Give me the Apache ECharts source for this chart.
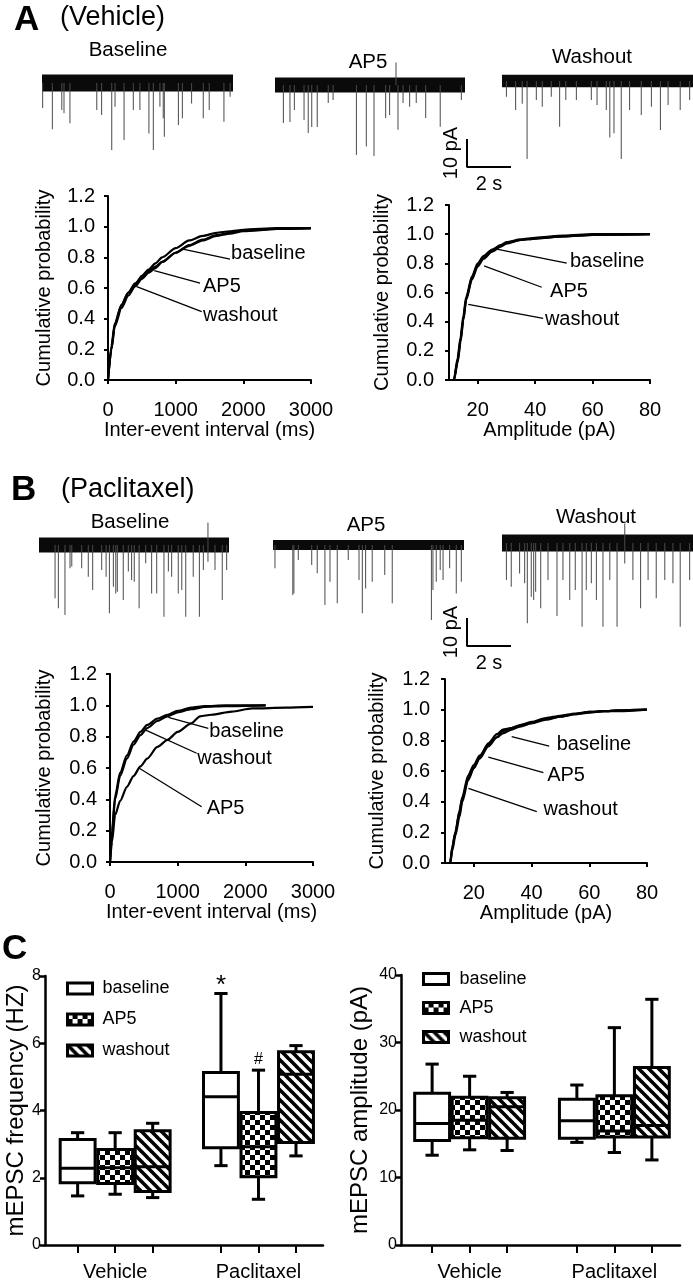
<!DOCTYPE html>
<html><head><meta charset="utf-8">
<script src="https://cdn.jsdelivr.net/npm/echarts@6/dist/echarts.min.js"></script>
<style>html,body{margin:0;padding:0;background:#fff}#c{width:693px;height:1285px}</style>
</head><body><div id="c"></div>
<script>
// ===================== DATA =====================
// Trace events: [time (s), amplitude (pA, downward)]
const vehBaselineEvents = [[0.03,8.9],[0.47,16.5],[0.9,9.6],[1.0,10.8],[1.27,14.4],[2.49,9.6],[2.71,11.4],[3.17,23.9],[3.32,8.5],[3.73,20.4],[4.15,9.6],[4.45,9.6],[4.86,18],[5.06,23.9],[5.36,8.5],[5.51,12.6],[5.56,19.2],[6.2,15],[6.38,12.6],[6.8,7.3],[7.33,12.6],[7.6,9.6],[8.27,13.8],[8.55,4.9]];
const vehAP5Events = [[0.38,13.6],[0.68,13.2],[0.88,8.9],[1.32,12.5],[1.51,17.1],[1.67,15],[1.92,15],[2.42,6.4],[2.64,5.4],[3.7,25],[4.15,22],[4.5,25.4],[5.03,11.8],[5.21,10.7],[5.59,16],[5.82,6.4],[6.12,7.8],[6.42,6.4],[6.85,11.8],[7.51,14.9],[8.47,5.4]];
const vehAP5Up = [[5.5,8]];
const vehWashoutEvents = [[0.2,5.6],[0.62,10.4],[0.92,8.1],[1.14,27.9],[1.56,6.8],[1.83,9.2],[2.24,5.6],[2.62,16.3],[2.9,6.8],[3.38,6.8],[4.06,6.8],[4.32,8.6],[4.74,10.4],[4.9,20.2],[5.09,18.7],[5.42,27.9],[5.8,10.4],[6.33,12.1],[6.79,9.2],[7.2,17.5],[7.55,8.6],[8.1,10.4],[8.53,6.8]];
const pacBaselineEvents = [[0.73,19],[0.88,22.6],[1.18,25],[1.41,8.3],[1.49,7.7],[1.94,8.3],[2.24,11.3],[2.44,16.1],[2.85,8.9],[3.05,11.3],[3.2,24.4],[3.38,14.9],[3.49,17.3],[3.56,16.7],[3.83,19.6],[4.06,9.5],[4.21,12.5],[4.33,13.1],[4.55,22.6],[4.85,6.5],[5.12,17.3],[5.35,17.3],[5.68,25.6],[5.88,9.5],[6.03,11.3],[6.33,17.3],[6.49,16.1],[6.67,25.6],[7.01,11.3],[7.29,25.6],[7.47,8.9],[7.68,6],[8.0,8.9],[8.33,19.6],[8.53,8.9]];
const pacBaselineUp = [[7.68,8]];
const pacAP5Events = [[0.09,8.3],[0.9,17.9],[0.95,17.3],[1.15,5.4],[1.76,7.1],[2.01,10.1],[2.36,21.4],[2.59,13.1],[2.92,20.8],[3.42,5.4],[3.91,12.5],[4.06,24.4],[4.21,15.5],[4.51,13.1],[5.08,10.7],[5.42,20.8],[7.2,26.8],[7.27,16.1],[7.42,13.1],[7.6,8.9],[7.73,12.5],[8.03,8.3],[8.33,17.3],[8.56,13.1]];
const pacWashoutEvents = [[0.2,13.2],[0.42,15.6],[0.8,10.9],[1.03,14.4],[1.15,28.7],[1.33,19.2],[1.44,20.4],[1.53,17.4],[1.76,23.3],[2.09,13.2],[2.5,26.1],[2.77,13.2],[3.08,20.4],[3.33,16.8],[3.64,29.9],[3.83,16.8],[4.06,14.4],[4.29,20.4],[4.59,29.9],[4.9,13.2],[5.23,29.9],[5.58,7.3],[5.95,13.2],[6.3,23.3],[6.64,13.2],[7.01,19.7],[7.4,13.2],[7.77,14.4],[8.1,29.9],[8.53,13.2]];
const pacWashoutUp = [[5.58,7]];
// baseline noise half-width (pA) per trace: baseline, AP5, washout
const vehNoise = [3.0, 2.7, 2.2];
const pacNoise = [2.7, 1.8, 3.0];
const traceTitles = ['Baseline', 'AP5', 'Washout'];
const scaleBar = {pA: 10, s: 2};

// Cumulative probability curves
const vehIEI_baseline = [[0,0],[50,0.2],[100,0.35],[200,0.47],[300,0.55],[400,0.61],[500,0.66],[600,0.7],[700,0.73],[800,0.77],[1000,0.83],[1200,0.88],[1400,0.915],[1600,0.945],[1800,0.96],[2000,0.975],[2500,0.985],[3000,0.99]];
const vehIEI_AP5 = [[0,0],[50,0.22],[100,0.37],[200,0.49],[300,0.57],[400,0.63],[500,0.67],[600,0.71],[700,0.74],[800,0.77],[1000,0.83],[1200,0.875],[1400,0.91],[1600,0.94],[1800,0.955],[2000,0.97],[2500,0.985],[3000,0.99]];
const vehIEI_washout = [[0,0],[50,0.2],[100,0.36],[200,0.49],[300,0.57],[400,0.62],[500,0.68],[600,0.72],[700,0.76],[800,0.8],[1000,0.86],[1200,0.91],[1400,0.94],[1600,0.96],[1800,0.97],[2000,0.98],[2500,0.99],[3000,0.99]];
const vehAmp_baseline = [[10,0],[11.7,0],[13,0.12],[14,0.26],[15,0.41],[16,0.55],[18,0.69],[20,0.78],[22,0.83],[25,0.88],[28,0.915],[30,0.935],[35,0.96],[40,0.97],[50,0.985],[60,0.995],[80,1.0]];
const vehAmp_AP5 = [[10,0],[11.7,0],[13,0.15],[14,0.29],[15,0.44],[16,0.57],[18,0.71],[20,0.8],[22,0.85],[25,0.895],[28,0.925],[30,0.945],[35,0.965],[40,0.975],[50,0.99],[60,1.0],[80,1.0]];
const vehAmp_washout = [[10,0],[11.7,0],[13,0.13],[14,0.27],[15,0.42],[16,0.56],[18,0.7],[20,0.79],[22,0.84],[25,0.885],[28,0.92],[30,0.94],[35,0.96],[40,0.97],[50,0.985],[60,0.995],[80,1.0]];
const pacIEI_baseline = [[0,0],[30,0.2],[75,0.42],[150,0.57],[250,0.68],[350,0.77],[450,0.83],[550,0.875],[700,0.915],[850,0.94],[1000,0.965],[1200,0.985],[1400,0.995],[1700,1.0],[2300,1.0]];
const pacIEI_washout = [[0,0],[30,0.18],[75,0.4],[150,0.55],[250,0.66],[350,0.75],[450,0.81],[550,0.855],[700,0.9],[850,0.93],[1000,0.955],[1200,0.975],[1400,0.99],[1700,0.995],[2300,1.0]];
const pacIEI_AP5 = [[0,0],[30,0.13],[75,0.3],[150,0.39],[250,0.48],[350,0.55],[450,0.61],[550,0.66],[700,0.735],[850,0.78],[1000,0.83],[1200,0.885],[1330,0.93],[1500,0.94],[1800,0.96],[2100,0.98],[2600,0.985],[3000,0.99]];
const pacAmp_baseline = [[10,0],[11.8,0],[12.5,0.1],[13.6,0.2],[15,0.33],[16,0.42],[18,0.55],[20,0.62],[22,0.68],[25,0.76],[28,0.82],[30,0.86],[33,0.88],[36,0.9],[40,0.92],[45,0.945],[50,0.96],[55,0.975],[60,0.985],[65,0.99],[70,0.995],[80,1.0]];
const pacAmp_AP5 = [[10,0],[11.8,0],[12.5,0.08],[13.6,0.18],[15,0.3],[16,0.4],[18,0.54],[20,0.62],[22,0.69],[25,0.78],[28,0.84],[30,0.87],[33,0.88],[36,0.895],[40,0.915],[45,0.94],[50,0.955],[55,0.97],[60,0.98],[65,0.99],[70,0.99],[80,1.0]];
const pacAmp_washout = [[10,0],[11.8,0],[12.5,0.1],[13.6,0.2],[15,0.34],[16,0.43],[18,0.57],[20,0.64],[22,0.7],[25,0.77],[28,0.82],[30,0.845],[33,0.87],[36,0.89],[40,0.91],[45,0.935],[50,0.955],[55,0.97],[60,0.985],[65,0.99],[70,0.995],[80,1.0]];

// Curve labels: [name, pointOnCurve, leaderEnd, textStart]
const vehIEI_labels = [['baseline',[1089,0.855],[1803,0.789],[1818,0.826]],['AP5',[684,0.713],[1360,0.631],[1404,0.609]],['washout',[424,0.609],[1384,0.446],[1404,0.424]]];
const vehAmp_labels = [['baseline',[26.6,0.897],[51.0,0.801],[52.1,0.811]],['AP5',[22.2,0.782],[42.3,0.636],[45.2,0.606]],['washout',[16.7,0.519],[42.8,0.423],[43.4,0.416]]];
const pacIEI_labels = [['baseline',[862,0.923],[1453,0.853],[1467,0.832]],['washout',[528,0.842],[1281,0.694],[1290,0.662]],['AP5',[433,0.598],[1355,0.353],[1428,0.343]]];
const pacAmp_labels = [['baseline',[33.1,0.824],[46.1,0.763],[48.7,0.77]],['AP5',[25.0,0.69],[44.1,0.589],[45.4,0.574]],['washout',[18.1,0.487],[41.8,0.335],[44.1,0.346]]];

// Box plots: [min, Q1, median, Q3, max]
const groups = ['Vehicle', 'Paclitaxel'];
const conditions = ['baseline', 'AP5', 'washout'];
const freqBaseline = [[1.46,1.85,2.28,3.14,3.34],[2.36,2.89,4.41,5.13,7.48]];
const freqAP5      = [[1.51,1.83,2.3,2.84,3.34],[1.36,2.03,2.92,3.94,5.20]];
const freqWashout  = [[1.41,1.59,2.33,3.40,3.62],[2.65,3.05,5.08,5.75,5.93]];
const ampBaseline  = [[13.3,15.5,18.0,22.5,26.8],[15.2,15.8,18.4,21.6,23.7]];
const ampAP5       = [[14.1,15.9,18.5,21.9,25.0],[13.7,16.0,16.9,22.1,32.2]];
const ampWashout   = [[14.0,15.8,20.5,21.8,22.6],[12.6,16.0,17.7,26.3,36.4]];
const sigMarks = [{chart:'freq', group:'Paclitaxel', cond:'baseline', text:'*'},{chart:'freq', group:'Paclitaxel', cond:'AP5', text:'#'}];
const freqTicks = [0, 8, 2];
const ampTicks = [0, 40, 10];

// ===================== STYLE / LAYOUT =====================
function hasFont(name){
  const c=document.createElement('canvas').getContext('2d');
  const s='abcdefghWWiilmnopq';
  c.font='40px monospace'; const w1=c.measureText(s).width;
  c.font='40px "'+name+'", monospace'; return Math.abs(c.measureText(s).width-w1)>0.5;
}
const FONT = '"Liberation Sans", Arial, Helvetica, sans-serif';
const HAS_NARROW = hasFont('Liberation Sans Narrow');
const NFONT = HAS_NARROW ? '"Liberation Sans Narrow", "Liberation Sans", Arial, sans-serif' : FONT;
const NX = HAS_NARROW ? 24 : 20;   // group label size
const NL = HAS_NARROW ? 21 : 18;   // legend text size

function makeChecker(){
  const c=document.createElement('canvas'); c.width=c.height=10;
  const g=c.getContext('2d'); g.fillStyle='#000'; g.fillRect(0,0,10,10);
  g.fillStyle='#fff'; g.fillRect(0,0,5,5); g.fillRect(5,5,5,5); return c;
}
function makeStripes(){
  const c=document.createElement('canvas'); c.width=c.height=10;
  const g=c.getContext('2d'); g.fillStyle='#fff'; g.fillRect(0,0,10,10);
  g.strokeStyle='#000'; g.lineWidth=3.6;
  for (const k of [-10,0,10]) { g.beginPath(); g.moveTo(k-3,-3); g.lineTo(k+13,13); g.stroke(); }
  return c;
}
const FILLS = {baseline:'#fff', AP5:{image:makeChecker(), repeat:'repeat'}, washout:{image:makeStripes(), repeat:'repeat'}};

const PX_PER_S = 22, PX_PER_PA = 2.8;
const traceLayout = [
  {left:42, center:83, width:191},{left:275, center:85, width:190},{left:502, center:81, width:191},
  {left:39, center:545, width:190},{left:273, center:545, width:191},{left:502, center:543, width:191}];
const traceSets = [
  {ev:vehBaselineEvents, up:[], noise:vehNoise[0]},{ev:vehAP5Events, up:vehAP5Up, noise:vehNoise[1]},{ev:vehWashoutEvents, up:[], noise:vehNoise[2]},
  {ev:pacBaselineEvents, up:pacBaselineUp, noise:pacNoise[0]},{ev:pacAP5Events, up:[], noise:pacNoise[1]},{ev:pacWashoutEvents, up:pacWashoutUp, noise:pacNoise[2]}];

const grids=[], xAxes=[], yAxes=[], series=[], legends=[];
function addGrid(g){ grids.push(Object.assign({containLabel:false}, g)); return grids.length-1; }
const plain = v => String(Math.round(v*1000)/1000);

// traces
traceLayout.forEach((L,i)=>{
  const T=L.width/PX_PER_S, s=traceSets[i];
  const gi=addGrid({left:L.left, top:L.center-10*PX_PER_PA, width:L.width, height:42*PX_PER_PA});
  xAxes.push({type:'value', gridIndex:gi, min:0, max:T, show:false});
  yAxes.push({type:'value', gridIndex:gi, min:-32, max:10, show:false});
  series.push({type:'bar', name:'trace'+i, xAxisIndex:gi, yAxisIndex:gi, barWidth:1, silent:true,
    data:s.ev.map(e=>[e[0],-e[1]]).concat(s.up.map(e=>[e[0],e[1]])),
    itemStyle:{color:'#4a4a4a'},
    markArea:{silent:true, itemStyle:{color:'#0a0a0a', opacity:1}, data:[[{coord:[0,-s.noise]},{coord:[T,s.noise]}]]}});
});

// scale bars
[{left:467, top:139},{left:467, top:618}].forEach(p=>{
  const gi=addGrid({left:p.left, top:p.top, width:scaleBar.s*PX_PER_S, height:scaleBar.pA*PX_PER_PA});
  const ax={axisLine:{show:false}, axisTick:{show:false}, axisLabel:{show:false}, splitLine:{show:false}};
  xAxes.push(Object.assign({type:'value', gridIndex:gi, min:0, max:scaleBar.s, name:scaleBar.s+' s', nameLocation:'middle', nameGap:7,
    nameTextStyle:{fontSize:20, fontFamily:FONT, color:'#000', verticalAlign:'top'}}, ax));
  yAxes.push(Object.assign({type:'value', gridIndex:gi, min:0, max:scaleBar.pA, name:scaleBar.pA+' pA', nameLocation:'middle', nameGap:6, nameRotate:90,
    nameTextStyle:{fontSize:20, fontFamily:FONT, color:'#000'}}, ax));
  series.push({type:'line', name:'scale'+gi, xAxisIndex:gi, yAxisIndex:gi, clip:false, symbol:'none', silent:true,
    data:[[0,scaleBar.pA],[0,0],[scaleBar.s,0]], lineStyle:{color:'#000', width:2}});
});

// cumulative charts
function addCum(L, xc, curves, labels, xName){
  const gi=addGrid({left:L.left, top:L.top, width:L.width, height:L.height});
  const axLine={show:true, onZero:false, lineStyle:{color:'#000', width:2}};
  const tick={show:true, length:4, lineStyle:{color:'#000', width:2}};
  const x={type:'value', gridIndex:gi, min:xc.min, max:xc.max, axisLine:axLine, splitLine:{show:false},
    axisTick:Object.assign({}, tick), axisLabel:{color:'#000', fontSize:20, fontFamily:FONT, margin:L.xMargin, formatter:plain},
    name:xName, nameLocation:'middle', nameGap:L.xNameGap, nameTextStyle:{fontSize:20, fontFamily:FONT, color:'#000'}};
  if (xc.interval) x.interval=xc.interval;
  if (xc.custom){ x.axisTick.customValues=xc.custom; x.axisLabel.customValues=xc.custom; }
  xAxes.push(x);
  yAxes.push({type:'value', gridIndex:gi, min:0, max:1.2, interval:0.2, axisLine:axLine, axisTick:tick, splitLine:{show:false},
    axisLabel:{color:'#000', fontSize:20, fontFamily:FONT, margin:L.yMargin, formatter:v=>v.toFixed(1)},
    name:'Cumulative probability', nameLocation:'middle', nameRotate:90, nameGap:L.yNameGap,
    nameTextStyle:{fontSize:20, fontFamily:FONT, color:'#000'}});
  curves.forEach((c,k)=>{
    const s={type:'line', name:'cum'+gi+'-'+k, xAxisIndex:gi, yAxisIndex:gi, data:c, symbol:'none', smooth:0.25, smoothMonotone:'x',
      lineStyle:{color:'#000', width:2.2}, silent:true, z:3};
    if (k===0){
      s.markLine={silent:true, symbol:['none','none'], animation:false, label:{show:false},
        lineStyle:{color:'#000', width:1.3, type:'solid'},
        data:labels.map(l=>[{coord:l[1]},{coord:l[2]}])};
      s.markPoint={silent:true, symbol:'circle', symbolSize:0, animation:false,
        label:{show:true, position:'right', distance:0, formatter:'{b}', color:'#000', fontSize:20, fontFamily:FONT},
        data:labels.map(l=>({name:l[0], coord:l[3]}))};
    }
    series.push(s);
  });
}
addCum({left:108, top:196, width:203, height:184, xMargin:20, yMargin:13, xNameGap:40, yNameGap:54},
  {min:0, max:3000, interval:1000}, [vehIEI_baseline, vehIEI_AP5, vehIEI_washout], vehIEI_labels, 'Inter-event interval (ms)');
addCum({left:449, top:205, width:201, height:175, xMargin:20, yMargin:15, xNameGap:40, yNameGap:57},
  {min:10, max:80, custom:[20,40,60,80]}, [vehAmp_baseline, vehAmp_AP5, vehAmp_washout], vehAmp_labels, 'Amplitude (pA)');
addCum({left:110, top:674, width:203, height:188, xMargin:20, yMargin:13, xNameGap:38, yNameGap:56},
  {min:0, max:3000, interval:1000}, [pacIEI_baseline, pacIEI_washout, pacIEI_AP5], pacIEI_labels, 'Inter-event interval (ms)');
addCum({left:445, top:679, width:202, height:184, xMargin:20, yMargin:15, xNameGap:37, yNameGap:58},
  {min:10, max:80, custom:[20,40,60,80]}, [pacAmp_baseline, pacAmp_AP5, pacAmp_washout], pacAmp_labels, 'Amplitude (pA)');

// box plots
const BOX_W = 0.93, CAP_FRAC = 0.38;
const SIG_STYLE = {'*':{size:26, dy:5}, '#':{size:16, dy:-3}};
function addBox(L, chartKey, valueSets, ticks, yName){
  const gi=addGrid({left:L.left, top:L.top, width:L.width, height:L.height});
  const positions=[], centers=[];
  groups.forEach((g,gIdx)=>{ centers.push(L.starts[gIdx]+1); conditions.forEach((c,ci)=>positions.push(L.starts[gIdx]+ci)); });
  xAxes.push({type:'value', gridIndex:gi, min:0, max:L.xmax, splitLine:{show:false},
    axisLine:{show:true, onZero:false, lineStyle:{color:'#000', width:2.5}},
    axisTick:{show:true, length:8, customValues:positions, lineStyle:{color:'#000', width:2}},
    axisLabel:{show:true, customValues:centers, margin:17, color:'#000', fontSize:NX, fontFamily:NFONT,
      formatter:v=>{ let best=0; centers.forEach((c,i)=>{ if(Math.abs(c-v)<Math.abs(centers[best]-v)) best=i; }); return groups[best]; }}});
  yAxes.push({type:'value', gridIndex:gi, min:ticks[0], max:ticks[1], interval:ticks[2], splitLine:{show:false},
    axisLine:{show:true, lineStyle:{color:'#000', width:2.5}},
    axisTick:{show:true, length:5, lineStyle:{color:'#000', width:2.5}},
    axisLabel:{color:'#000', fontSize:16, fontFamily:FONT, margin:4},
    name:yName, nameLocation:'middle', nameRotate:90, nameGap:L.yNameGap,
    nameTextStyle:{fontSize:24, fontFamily:FONT, color:'#000'}});
  conditions.forEach((cond,ci)=>{
    const data = valueSets[ci].map((v,gIdx)=>[L.starts[gIdx]+ci].concat(v));
    series.push({type:'custom', name:cond, xAxisIndex:gi, yAxisIndex:gi, data, silent:true, clip:false,
      encode:{x:0, y:[1,2,3,4,5]},
      renderItem:(params, api)=>{
        const pos=api.value(0), lo=api.value(1), q1=api.value(2), md=api.value(3), q3=api.value(4), hi=api.value(5);
        const Y=v=>api.coord([pos,v])[1];
        const cx=api.coord([pos,lo])[0];
        const bw=api.size([BOX_W,0])[0], cap=bw*CAP_FRAC;
        const ls={stroke:'#000', lineWidth:3, fill:null};
        const ch=[
          {type:'line', shape:{x1:cx,y1:Y(lo),x2:cx,y2:Y(q1)}, style:ls},
          {type:'line', shape:{x1:cx-cap/2,y1:Y(lo),x2:cx+cap/2,y2:Y(lo)}, style:ls},
          {type:'line', shape:{x1:cx,y1:Y(q3),x2:cx,y2:Y(hi)}, style:ls},
          {type:'line', shape:{x1:cx-cap/2,y1:Y(hi),x2:cx+cap/2,y2:Y(hi)}, style:ls},
          {type:'rect', shape:{x:cx-bw/2,y:Y(q3),width:bw,height:Y(q1)-Y(q3)}, style:{fill:FILLS[cond], stroke:'#000', lineWidth:3}},
          {type:'line', shape:{x1:cx-bw/2,y1:Y(md),x2:cx+bw/2,y2:Y(md)}, style:ls}];
        const m=sigMarks.find(s=>s.chart===chartKey && s.cond===cond && s.group===groups[params.dataIndex]);
        if (m){ const st=SIG_STYLE[m.text]||{size:20,dy:0};
          ch.push({type:'text', style:{text:m.text, x:cx, y:Y(hi)+st.dy, align:'center', verticalAlign:'bottom',
            fontSize:st.size, fontFamily:FONT, fill:'#000'}}); }
        return {type:'group', children:ch};
      }});
  });
  legends.push({left:L.legLeft, top:L.legTop, orient:'vertical', padding:0, itemWidth:25, itemHeight:11, itemGap:L.legGap,
    selectedMode:false, textStyle:{fontSize:NL, fontFamily:NFONT, color:'#000', padding:[0,0,0,L.legPad]},
    data:conditions.map(c=>({name:c, icon:'rect', itemStyle:{color:FILLS[c], borderColor:'#000', borderWidth:3}}))});
}
addBox({left:45, top:976, width:278, height:269, xmax:7.41, starts:[0.87,4.69], yNameGap:13, legLeft:66, legTop:979.5, legGap:13, legPad:5},
  'freq', [freqBaseline, freqAP5, freqWashout], freqTicks, 'mEPSC frequency (HZ)');
addBox({left:401, top:975, width:279, height:270, xmax:7.44, starts:[0.83,4.69], yNameGap:29, legLeft:422, legTop:970, legGap:11, legPad:6},
  'amp', [ampBaseline, ampAP5, ampWashout], ampTicks, 'mEPSC amplitude (pA)');

// text labels
function txt(text, x, y, size, opts){
  return {type:'text', x, y, silent:true, style:Object.assign({text, fontSize:size, fontFamily:FONT, fill:'#000', align:'center', verticalAlign:'middle'}, opts||{})};
}
const graphics=[
  txt('A', 14, 20, 35, {align:'left', fontWeight:'bold'}),
  txt('(Vehicle)', 60, 18, 27, {align:'left'}),
  txt(traceTitles[0], 128, 50, 20.5), txt(traceTitles[1], 368, 62, 20.5), txt(traceTitles[2], 592, 57, 20.5),
  txt('B', 11, 490, 35, {align:'left', fontWeight:'bold'}),
  txt('(Paclitaxel)', 61, 490, 27, {align:'left'}),
  txt(traceTitles[0], 130, 522, 20.5), txt(traceTitles[1], 366, 525, 20.5), txt(traceTitles[2], 596, 517, 20.5),
  txt('C', 2, 949, 35, {align:'left', fontWeight:'bold'})
];

const chart=echarts.init(document.getElementById('c'), null, {renderer:'canvas'});
chart.setOption({animation:false, backgroundColor:'#fff', textStyle:{fontFamily:FONT},
  grid:grids, xAxis:xAxes, yAxis:yAxes, series, legend:legends, graphic:graphics});
</script></body></html>
